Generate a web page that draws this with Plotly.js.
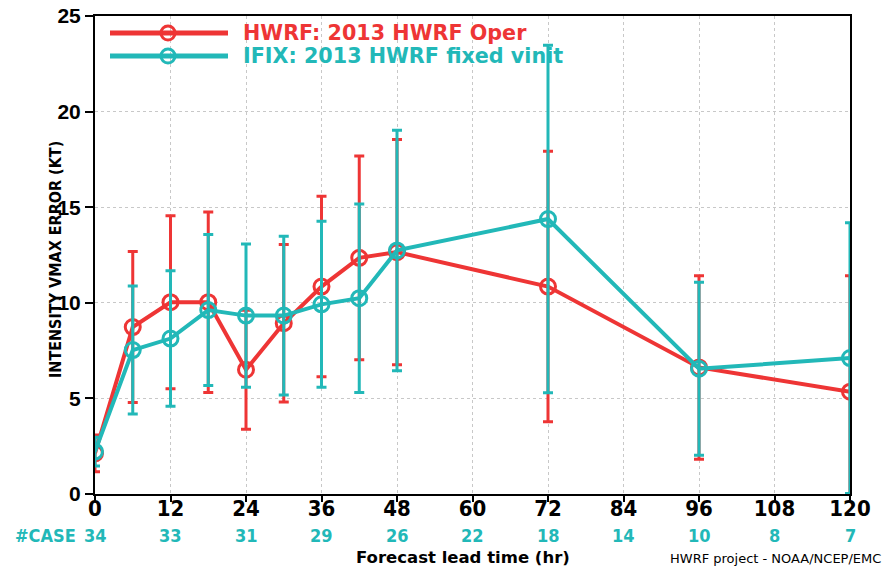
<!DOCTYPE html>
<html>
<head>
<meta charset="utf-8">
<script src="https://cdn.plot.ly/plotly-3.0.1.min.js"></script>
<style>html,body{margin:0;padding:0;background:#fff;}#chart{width:892px;height:566px;}</style>
</head>
<body>
<div id="chart"></div>
<script>
// Forecast lead times (hr)
const leadHours = [0, 6, 12, 18, 24, 30, 36, 42, 48, 72, 96, 120];
// HWRF: 2013 HWRF Oper
const hwrfErr = [2.13, 8.73, 10.03, 10.03, 6.50, 8.93, 10.85, 12.35, 12.65, 10.85, 6.62, 5.35];
const hwrfSpread = [0.96, 3.95, 4.52, 4.72, 3.11, 4.12, 4.72, 5.33, 5.89, 7.07, 4.80, 6.06];
// IFIX: 2013 HWRF fixed vinit
const ifixErr = [2.22, 7.53, 8.13, 9.62, 9.33, 9.33, 9.92, 10.24, 12.74, 14.38, 6.55, 7.11];
const ifixSpread = [0.75, 3.35, 3.54, 3.95, 3.75, 4.15, 4.34, 4.93, 6.29, 9.09, 4.52, 7.08];
// x-axis ticks and case counts
const tickHours = [0, 12, 24, 36, 48, 60, 72, 84, 96, 108, 120];
const tickLabels = ["0", "12", "24", "36", "48", "60", "72", "84", "96", "108", "120"];
const caseCounts = [34, 33, 31, 29, 26, 22, 18, 14, 10, 8, 7];
const seriesNames = ["HWRF: 2013 HWRF Oper", "IFIX: 2013 HWRF fixed vinit"];

const RED = "#ee3535";
const TEAL = "#22b8b8";
const NARROW = "'Liberation Sans Narrow', 'DejaVu Sans Condensed', Arial, sans-serif";
const SANS = "'Liberation Sans', Arial, sans-serif";
const DEJA = "'DejaVu Sans', sans-serif";

function series(y, spread, color, name) {
  return {
    type: "scatter", mode: "lines+markers", x: leadHours, y: y, name: name,
    line: {color: color, width: 4},
    marker: {symbol: "circle-open", size: 15, color: color, line: {color: color, width: 3}},
    error_y: {type: "data", array: spread, symmetric: true, color: color, thickness: 3, width: 5},
    showlegend: false, cliponaxis: true
  };
}

const data = [
  series(hwrfErr, hwrfSpread, RED, seriesNames[0]),
  series(ifixErr, ifixSpread, TEAL, seriesNames[1])
];

const L = 95, R = 850, T = 16, B = 494;
const W = R - L, H = B - T;
const px = v => (v - L) / W;
const py = v => (B - v) / H;

const annotations = [];
caseCounts.forEach((c, i) => {
  annotations.push({x: tickHours[i], xref: "x", y: py(535), yref: "paper", text: String(c),
    showarrow: false, xanchor: "center", yanchor: "middle",
    font: {family: NARROW, size: 18, color: TEAL, weight: "bold"}});
});
annotations.push({x: px(78), xref: "paper", y: py(535), yref: "paper", text: "#CASE",
  showarrow: false, xanchor: "right", yanchor: "middle",
  font: {family: NARROW, size: 18, color: TEAL, weight: "bold"}});
annotations.push({x: px(883), xref: "paper", y: py(558), yref: "paper", text: "HWRF project - NOAA/NCEP/EMC",
  showarrow: false, xanchor: "right", yanchor: "middle",
  font: {family: DEJA, size: 13, color: "#000", weight: "normal"}});
// axis titles
annotations.push({x: px(463), xref: "paper", y: py(557), yref: "paper", text: "Forecast lead time (hr)",
  showarrow: false, xanchor: "center", yanchor: "middle",
  font: {family: DEJA, size: 16.5, color: "#000", weight: "bold"}});
annotations.push({x: px(55), xref: "paper", y: py(260), yref: "paper", text: "INTENSITY VMAX ERROR (KT)",
  textangle: -90, showarrow: false, xanchor: "center", yanchor: "middle",
  font: {family: NARROW, size: 16, color: "#000", weight: "bold"}});
// legend texts
const legendRows = [33, 56];
const legendColors = [RED, TEAL];
const shapes = [];
legendRows.forEach((ry, i) => {
  annotations.push({x: px(241), xref: "paper", y: py(ry), yref: "paper", text: seriesNames[i],
    showarrow: false, xanchor: "left", yanchor: "middle",
    font: {family: DEJA, size: 20.7, color: legendColors[i], weight: "bold"}});
  shapes.push({type: "line", xref: "paper", yref: "paper", x0: px(110), x1: px(228), y0: py(ry), y1: py(ry),
    line: {color: legendColors[i], width: 5}});
  shapes.push({type: "circle", xref: "paper", yref: "paper", xsizemode: "pixel", ysizemode: "pixel",
    xanchor: px(168), yanchor: py(ry), x0: -7, x1: 7, y0: -7, y1: 7,
    line: {color: legendColors[i], width: 3}, fillcolor: "rgba(0,0,0,0)"});
});

const layout = {
  width: 892, height: 566,
  margin: {l: L, r: 892 - R, t: T, b: 566 - B},
  paper_bgcolor: "#fff", plot_bgcolor: "#fff",
  showlegend: false,
  xaxis: {
    range: [0, 120], tickvals: tickHours, ticktext: tickLabels,
    showgrid: true, gridcolor: "#c8c8c8", griddash: "dot", gridwidth: 1,
    showline: true, linecolor: "#000", linewidth: 2, mirror: true,
    ticks: "outside", ticklen: 6, tickwidth: 2, tickcolor: "#000",
    ticklabelstandoff: -12,
    tickfont: {family: NARROW, size: 22, color: "#000", weight: "bold"},
    zeroline: false
  },
  yaxis: {
    range: [0, 25], tickvals: [0, 5, 10, 15, 20, 25],
    showgrid: true, gridcolor: "#c8c8c8", griddash: "dot", gridwidth: 1,
    showline: true, linecolor: "#000", linewidth: 2, mirror: true,
    ticks: "outside", ticklen: 8, tickwidth: 2, tickcolor: "#000",
    tickfont: {family: SANS, size: 21, color: "#000", weight: "bold"},
    zeroline: false
  },
  annotations: annotations,
  shapes: shapes
};

Plotly.newPlot("chart", data, layout, {displayModeBar: false, staticPlot: true});
</script>
</body>
</html>
